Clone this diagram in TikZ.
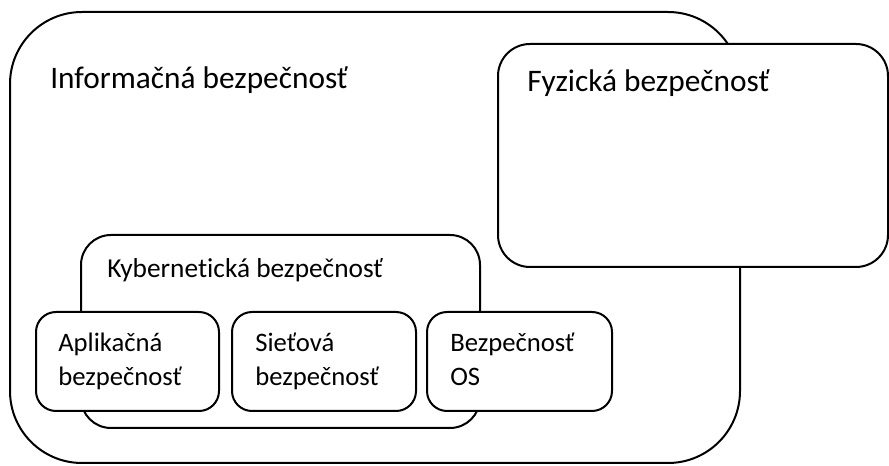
\documentclass[tikz,border=0pt]{standalone}
\usepackage{fontspec}
\setmainfont[Ligatures=NoCommon]{Carlito}
\begin{document}
\begin{tikzpicture}[x=0.75pt,y=-0.75pt,
  box/.style={draw=black,line width=1.5pt,fill=white,inner sep=0pt},
  bigtxt/.style={font=\fontsize{23.5}{28}\selectfont,inner sep=0pt,anchor=base west},
  midtxt/.style={font=\fontsize{20.5}{25.5}\selectfont,inner sep=0pt,anchor=base west},
  smalltxt/.style={font=\fontsize{20}{25.5}\selectfont,inner sep=0pt,anchor=base west,align=left}]
\useasboundingbox (0,0) rectangle (889,466);
\node[box,rounded corners=54pt,minimum width=547.5pt,minimum height=338.25pt] (info) at (375,237.5) {};
\node[box,rounded corners=24pt,minimum width=292.5pt,minimum height=167.25pt] (fyz) at (693,155.5) {};
\node[box,rounded corners=22.5pt,minimum width=299.25pt,minimum height=144.75pt] (kyb) at (280.5,331.5) {};
\node[box,rounded corners=15pt,minimum width=137.25pt,minimum height=74.25pt] (app) at (127.5,361.5) {};
\node[box,rounded corners=15pt,minimum width=138pt,minimum height=74.25pt] (siet) at (324,361.5) {};
\node[box,rounded corners=15pt,minimum width=138.75pt,minimum height=74.25pt] (os) at (519.5,361.5) {};
\node[bigtxt] (tinfo) at (50,89) {Informačná bezpečnosť};
\node[bigtxt] (tfyz) at (527,92) {Fyzická bezpečnosť};
\node[midtxt] (tkyb) at (107,278) {Kybernetická bezpečnosť};
\node[smalltxt] (tapp) at (58,386) {Aplikačná\\bezpečnosť};
\node[smalltxt] (tsiet) at (255,386) {Sieťová\\bezpečnosť};
\node[smalltxt] (tos) at (450,386) {Bezpečnosť\\OS};
\end{tikzpicture}
\end{document}
